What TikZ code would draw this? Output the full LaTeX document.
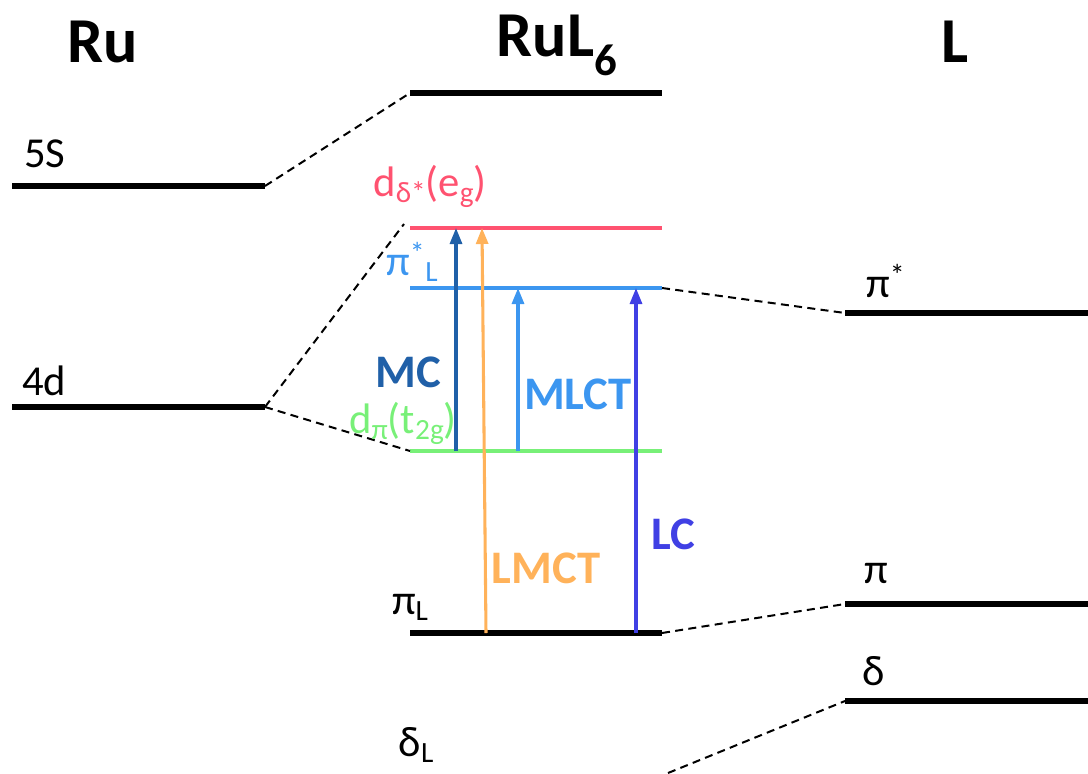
\documentclass[tikz,border=0pt]{standalone}
\usepackage{fontspec}
\setmainfont{Carlito}
\usetikzlibrary{arrows.meta}
\definecolor{cred}{RGB}{255,82,112}
\definecolor{cgreen}{RGB}{120,240,120}
\definecolor{cblue}{RGB}{60,150,240}
\definecolor{cmc}{RGB}{32,96,168}
\definecolor{corange}{RGB}{255,178,90}
\definecolor{clc}{RGB}{64,64,228}
\newcommand\lsub[1]{\raisebox{-0.3ex}{\fontsize{22}{24}\selectfont #1}}
\begin{document}
\begin{tikzpicture}[x=0.75pt,y=-0.75pt,
  level/.style={line width=3.8pt},
  clevel/.style={line width=3.2pt},
  conn/.style={line width=1.5pt,dash pattern=on 6pt off 4pt},
  trans/.style={line width=2.3pt,-{Triangle[length=12pt,width=9pt]}},
  head/.style={font=\fontsize{48}{52}\selectfont\bfseries,inner sep=0pt},
  lab/.style={font=\fontsize{32}{36}\selectfont,inner sep=0pt},
  blab/.style={font=\fontsize{35}{38}\selectfont\bfseries,inner sep=0pt}]
\useasboundingbox (0,0) rectangle (1088,774);
% headings
\node[head] (hRu) at (103,42) {Ru};
\node[head] (hRuL) at (557,45) {RuL\textsubscript{6}};
\node[head] (hL) at (955,42) {L};
% Ru levels
\coordinate (sL) at (12,186); \coordinate (sR) at (265,186);
\coordinate (dL) at (12,407); \coordinate (dR) at (265,407);
\draw[level] (sL) -- (sR);
\draw[level] (dL) -- (dR);
\node[lab,anchor=south west] (l5s) at (24,168) {5S};
\node[lab,anchor=south west] (l4d) at (22,396) {4d};
% RuL6 levels
\coordinate (tL) at (410,93); \coordinate (tR) at (662,93);
\coordinate (eL) at (410,228); \coordinate (eR) at (662,228);
\coordinate (pL) at (410,288); \coordinate (pR) at (662,288);
\coordinate (gL) at (410,451); \coordinate (gR) at (662,451);
\coordinate (nL) at (410,633); \coordinate (nR) at (662,633);
\draw[level] (tL) -- (tR);
\draw[clevel,cred] (eL) -- (eR);
\draw[clevel,cblue] (pL) -- (pR);
\draw[clevel,cgreen] (gL) -- (gR);
\draw[level] (nL) -- (nR);
% L levels
\coordinate (LpsL) at (845,313); \coordinate (LpsR) at (1088,313);
\coordinate (LpL) at (845,604); \coordinate (LpR) at (1088,604);
\coordinate (LdL) at (845,701); \coordinate (LdR) at (1088,701);
\draw[level] (LpsL) -- (LpsR);
\draw[level] (LpL) -- (LpR);
\draw[level] (LdL) -- (LdR);
\node[lab,anchor=south west] (lps) at (866,298) {π\textsuperscript{*}};
\node[lab,anchor=south west] (lp) at (864,584) {π};
\node[lab,anchor=south west] (ld) at (862,686) {δ};
% connectors
\coordinate (eLc) at (404,224);
\coordinate (dLbot) at (668,773);
\draw[conn] (sR) -- (tL);
\draw[conn] (dR) -- (eLc);
\draw[conn] (dR) -- (gL);
\draw[conn] (pR) -- (LpsL);
\draw[conn] (nR) -- (LpL);
\draw[conn] (dLbot) -- (LdL);
% labels of RuL6 levels
\node[lab,cred] (leg) at (430,186) {d\lsub{δ*}(e\lsub{g})};
\node[lab,cblue] (lpl) at (412,262) {π\textsuperscript{*}\lsub{L}};
\node[lab,cgreen] (lt2g) at (403,423) {d\lsub{π}(t\lsub{2g})};
\node[lab] (lnl) at (410,607) {π\lsub{L}};
\node[lab] (ldl) at (416,745) {δ\lsub{L}};
% transitions
\coordinate (mcB) at (456,451); \coordinate (mcT) at (456,228);
\coordinate (lmB) at (486,633); \coordinate (lmT) at (482,228);
\coordinate (mlB) at (518,451); \coordinate (mlT) at (518,288);
\coordinate (lcB) at (636,633); \coordinate (lcT) at (636,288);
\draw[trans,cmc] (mcB) -- (mcT);
\draw[trans,corange] (lmB) -- (lmT);
\draw[trans,cblue] (mlB) -- (mlT);
\draw[trans,clc] (lcB) -- (lcT);
\node[blab,cmc] (tmc) at (408,372) {MC};
\node[blab,cblue] (tml) at (578,394) {MLCT};
\node[blab,corange] (tlm) at (546,568) {LMCT};
\node[blab,clc] (tlc) at (673,534) {LC};
\end{tikzpicture}
\end{document}
